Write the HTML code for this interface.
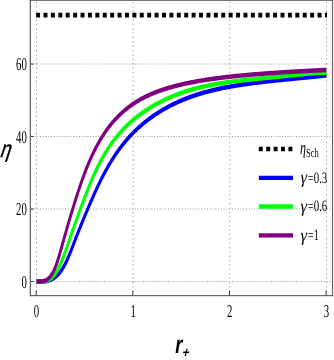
<!DOCTYPE html>
<html><head><meta charset="utf-8"><style>html,body{margin:0;padding:0;background:#fff;}body{width:334px;height:360px;overflow:hidden;position:relative;font-family:"Liberation Serif",serif;}</style></head><body>
<svg width="334" height="360" viewBox="0 0 334 360" style="position:absolute;left:0;top:0;will-change:transform">
<rect width="334" height="360" fill="#fff"/>
<g transform="scale(0.6185 1)" fill="none">
<g stroke="#858585" stroke-width="1" stroke-dasharray="1.7 2.8">
<line x1="51.09" y1="281.50" x2="536.78" y2="281.50"/>
<line x1="51.09" y1="209.00" x2="536.78" y2="209.00"/>
<line x1="51.09" y1="136.50" x2="536.78" y2="136.50"/>
<line x1="51.09" y1="64.00" x2="536.78" y2="64.00"/>
</g>
<g stroke="#8c8c8c" stroke-width="1.35" stroke-dasharray="1.35 3.025">
<line x1="59.01" y1="1.8" x2="59.01" y2="295"/>
<line x1="215.28" y1="1.8" x2="215.28" y2="295"/>
<line x1="371.54" y1="1.8" x2="371.54" y2="295"/>
<line x1="527.81" y1="1.8" x2="527.81" y2="295"/>
</g>
<line x1="58.37" y1="15.2" x2="528.70" y2="15.2" stroke="#000" stroke-width="4.7" stroke-dasharray="6.4 5.575"/>
<polyline points="59.01,281.50 59.80,281.49 60.58,281.49 61.36,281.49 62.14,281.49 62.92,281.49 63.70,281.49 64.48,281.49 65.26,281.48 66.05,281.48 66.83,281.47 67.61,281.46 68.39,281.45 69.17,281.42 69.95,281.40 70.73,281.37 71.51,281.33 72.30,281.28 73.08,281.22 73.86,281.16 74.64,281.08 75.42,281.00 76.20,280.90 76.98,280.80 77.77,280.68 78.55,280.54 79.33,280.40 80.11,280.24 80.89,280.06 81.67,279.87 82.45,279.67 83.23,279.45 84.02,279.21 84.80,278.95 85.58,278.68 86.36,278.39 87.14,278.08 87.92,277.75 88.70,277.40 89.49,277.03 90.27,276.64 91.05,276.22 91.83,275.79 92.61,275.33 93.39,274.84 94.17,274.33 94.95,273.79 95.74,273.23 96.52,272.64 97.30,272.03 98.08,271.38 98.86,270.71 99.64,270.01 100.42,269.28 101.21,268.52 101.99,267.73 102.77,266.92 103.55,266.07 104.33,265.19 105.11,264.28 105.89,263.34 106.67,262.36 107.46,261.36 108.24,260.33 109.02,259.26 109.80,258.18 110.58,257.06 111.36,255.93 112.14,254.77 112.93,253.59 113.71,252.40 114.49,251.19 115.27,249.97 116.05,248.74 116.83,247.50 117.61,246.25 118.39,244.99 119.18,243.74 119.96,242.48 120.74,241.22 121.52,239.97 122.30,238.72 123.08,237.47 123.86,236.23 124.65,234.99 125.43,233.76 126.21,232.54 126.99,231.32 127.77,230.10 128.55,228.89 129.33,227.69 130.11,226.48 130.90,225.29 131.68,224.10 132.46,222.91 133.24,221.73 134.02,220.55 134.80,219.37 135.58,218.20 136.36,217.04 137.15,215.88 137.93,214.72 138.71,213.57 139.49,212.42 140.27,211.27 141.05,210.13 141.83,208.99 142.62,207.85 143.40,206.72 144.18,205.59 144.96,204.46 145.74,203.34 146.52,202.22 147.30,201.11 148.08,200.00 148.87,198.90 149.65,197.80 150.43,196.71 151.21,195.62 151.99,194.55 152.77,193.47 153.55,192.41 154.34,191.35 155.12,190.30 155.90,189.25 156.68,188.22 157.46,187.19 158.24,186.17 159.02,185.15 159.80,184.15 160.59,183.15 161.37,182.16 162.15,181.18 162.93,180.21 163.71,179.24 164.49,178.29 165.27,177.34 166.06,176.40 166.84,175.47 167.62,174.54 168.40,173.63 169.18,172.72 169.96,171.83 170.74,170.94 171.52,170.06 172.31,169.18 173.09,168.32 173.87,167.47 174.65,166.62 175.43,165.78 176.21,164.95 176.99,164.13 177.78,163.32 178.56,162.51 179.34,161.72 180.12,160.93 180.90,160.15 181.68,159.38 182.46,158.61 183.24,157.86 184.03,157.11 184.81,156.37 185.59,155.64 186.37,154.91 187.15,154.20 187.93,153.49 188.71,152.78 189.50,152.09 190.28,151.40 191.06,150.72 191.84,150.05 192.62,149.39 193.40,148.73 194.18,148.08 194.96,147.43 195.75,146.79 196.53,146.16 197.31,145.54 198.09,144.92 198.87,144.31 199.65,143.70 200.43,143.11 201.22,142.51 202.00,141.93 202.78,141.35 203.56,140.77 204.34,140.21 205.12,139.64 205.90,139.09 206.68,138.54 207.47,137.99 208.25,137.45 209.03,136.92 209.81,136.39 210.59,135.87 211.37,135.35 212.15,134.84 212.93,134.33 213.72,133.83 214.50,133.33 215.28,132.84 216.06,132.35 216.84,131.87 217.62,131.39 218.40,130.92 219.19,130.45 219.97,129.99 220.75,129.53 221.53,129.07 222.31,128.62 223.09,128.17 223.87,127.73 224.65,127.29 225.44,126.86 226.22,126.43 227.00,126.00 227.78,125.58 228.56,125.16 229.34,124.75 230.12,124.33 230.91,123.93 231.69,123.52 232.47,123.12 233.25,122.73 234.03,122.34 234.81,121.95 235.59,121.56 236.37,121.18 237.16,120.80 237.94,120.43 238.72,120.05 239.50,119.68 240.28,119.32 241.06,118.96 241.84,118.60 242.63,118.24 243.41,117.89 244.19,117.54 244.97,117.19 245.75,116.85 246.53,116.51 247.31,116.17 248.09,115.83 248.88,115.50 249.66,115.17 250.44,114.84 251.22,114.52 252.00,114.20 252.78,113.88 253.56,113.56 254.35,113.25 255.13,112.94 255.91,112.63 256.69,112.33 257.47,112.02 258.25,111.72 259.03,111.42 259.81,111.13 260.60,110.84 261.38,110.55 262.16,110.26 262.94,109.97 263.72,109.69 264.50,109.41 265.28,109.13 266.07,108.85 266.85,108.57 267.63,108.30 268.41,108.03 269.19,107.76 269.97,107.50 270.75,107.23 271.53,106.97 272.32,106.71 273.10,106.46 273.88,106.20 274.66,105.95 275.44,105.70 276.22,105.45 277.00,105.20 277.78,104.95 278.57,104.71 279.35,104.47 280.13,104.23 280.91,103.99 281.69,103.76 282.47,103.53 283.25,103.29 284.04,103.06 284.82,102.84 285.60,102.61 286.38,102.39 287.16,102.17 287.94,101.95 288.72,101.73 289.50,101.51 290.29,101.30 291.07,101.08 291.85,100.87 292.63,100.66 293.41,100.46 294.19,100.25 294.97,100.05 295.76,99.85 296.54,99.65 297.32,99.45 298.10,99.25 298.88,99.06 299.66,98.86 300.44,98.67 301.22,98.48 302.01,98.29 302.79,98.11 303.57,97.92 304.35,97.74 305.13,97.56 305.91,97.38 306.69,97.20 307.48,97.02 308.26,96.85 309.04,96.67 309.82,96.50 310.60,96.33 311.38,96.16 312.16,96.00 312.94,95.83 313.73,95.67 314.51,95.50 315.29,95.34 316.07,95.18 316.85,95.02 317.63,94.86 318.41,94.71 319.20,94.55 319.98,94.40 320.76,94.25 321.54,94.10 322.32,93.95 323.10,93.80 323.88,93.65 324.66,93.51 325.45,93.36 326.23,93.22 327.01,93.08 327.79,92.94 328.57,92.80 329.35,92.66 330.13,92.53 330.92,92.39 331.70,92.25 332.48,92.12 333.26,91.99 334.04,91.86 334.82,91.73 335.60,91.60 336.38,91.47 337.17,91.34 337.95,91.22 338.73,91.09 339.51,90.97 340.29,90.85 341.07,90.73 341.85,90.61 342.64,90.49 343.42,90.37 344.20,90.25 344.98,90.13 345.76,90.02 346.54,89.90 347.32,89.79 348.10,89.68 348.89,89.56 349.67,89.45 350.45,89.34 351.23,89.23 352.01,89.13 352.79,89.02 353.57,88.91 354.35,88.81 355.14,88.70 355.92,88.60 356.70,88.49 357.48,88.39 358.26,88.29 359.04,88.19 359.82,88.09 360.61,87.99 361.39,87.89 362.17,87.79 362.95,87.70 363.73,87.60 364.51,87.51 365.29,87.41 366.07,87.32 366.86,87.23 367.64,87.13 368.42,87.04 369.20,86.95 369.98,86.86 370.76,86.77 371.54,86.68 372.33,86.59 373.11,86.51 373.89,86.42 374.67,86.33 375.45,86.25 376.23,86.16 377.01,86.08 377.79,86.00 378.58,85.91 379.36,85.83 380.14,85.75 380.92,85.67 381.70,85.59 382.48,85.51 383.26,85.43 384.05,85.35 384.83,85.27 385.61,85.19 386.39,85.12 387.17,85.04 387.95,84.97 388.73,84.89 389.51,84.81 390.30,84.74 391.08,84.67 391.86,84.59 392.64,84.52 393.42,84.45 394.20,84.38 394.98,84.31 395.77,84.23 396.55,84.16 397.33,84.09 398.11,84.03 398.89,83.96 399.67,83.89 400.45,83.82 401.23,83.75 402.02,83.69 402.80,83.62 403.58,83.55 404.36,83.49 405.14,83.42 405.92,83.36 406.70,83.29 407.49,83.23 408.27,83.16 409.05,83.10 409.83,83.04 410.61,82.97 411.39,82.91 412.17,82.85 412.95,82.79 413.74,82.73 414.52,82.67 415.30,82.61 416.08,82.55 416.86,82.49 417.64,82.43 418.42,82.37 419.20,82.31 419.99,82.25 420.77,82.19 421.55,82.14 422.33,82.08 423.11,82.02 423.89,81.96 424.67,81.91 425.46,81.85 426.24,81.79 427.02,81.74 427.80,81.68 428.58,81.63 429.36,81.57 430.14,81.52 430.92,81.46 431.71,81.41 432.49,81.36 433.27,81.30 434.05,81.25 434.83,81.20 435.61,81.14 436.39,81.09 437.18,81.04 437.96,80.99 438.74,80.93 439.52,80.88 440.30,80.83 441.08,80.78 441.86,80.73 442.64,80.68 443.43,80.62 444.21,80.57 444.99,80.52 445.77,80.47 446.55,80.42 447.33,80.37 448.11,80.32 448.90,80.27 449.68,80.22 450.46,80.17 451.24,80.12 452.02,80.08 452.80,80.03 453.58,79.98 454.36,79.93 455.15,79.88 455.93,79.83 456.71,79.78 457.49,79.73 458.27,79.69 459.05,79.64 459.83,79.59 460.62,79.54 461.40,79.49 462.18,79.45 462.96,79.40 463.74,79.35 464.52,79.30 465.30,79.26 466.08,79.21 466.87,79.16 467.65,79.12 468.43,79.07 469.21,79.02 469.99,78.97 470.77,78.93 471.55,78.88 472.34,78.83 473.12,78.79 473.90,78.74 474.68,78.69 475.46,78.65 476.24,78.60 477.02,78.55 477.80,78.51 478.59,78.46 479.37,78.41 480.15,78.37 480.93,78.32 481.71,78.27 482.49,78.23 483.27,78.18 484.05,78.13 484.84,78.09 485.62,78.04 486.40,77.99 487.18,77.95 487.96,77.90 488.74,77.85 489.52,77.80 490.31,77.76 491.09,77.71 491.87,77.66 492.65,77.62 493.43,77.57 494.21,77.52 494.99,77.47 495.77,77.43 496.56,77.38 497.34,77.33 498.12,77.28 498.90,77.24 499.68,77.19 500.46,77.14 501.24,77.09 502.03,77.05 502.81,77.00 503.59,76.95 504.37,76.90 505.15,76.85 505.93,76.80 506.71,76.76 507.49,76.71 508.28,76.66 509.06,76.61 509.84,76.56 510.62,76.51 511.40,76.46 512.18,76.41 512.96,76.36 513.75,76.31 514.53,76.26 515.31,76.21 516.09,76.16 516.87,76.11 517.65,76.06 518.43,76.01 519.21,75.96 520.00,75.91 520.78,75.86 521.56,75.81 522.34,75.75 523.12,75.70 523.90,75.65 524.68,75.60 525.47,75.55 526.25,75.49 527.03,75.44 527.81,75.39" stroke="#0000ff" stroke-width="4.5" stroke-linejoin="round"/>
<polyline points="59.01,281.50 59.80,281.50 60.58,281.47 61.36,281.46 62.14,281.44 62.92,281.43 63.70,281.42 64.48,281.42 65.26,281.41 66.05,281.40 66.83,281.39 67.61,281.37 68.39,281.35 69.17,281.32 69.95,281.28 70.73,281.23 71.51,281.17 72.30,281.10 73.08,281.01 73.86,280.90 74.64,280.78 75.42,280.64 76.20,280.48 76.98,280.30 77.77,280.09 78.55,279.86 79.33,279.61 80.11,279.32 80.89,279.01 81.67,278.67 82.45,278.30 83.23,277.90 84.02,277.46 84.80,276.99 85.58,276.49 86.36,275.96 87.14,275.38 87.92,274.78 88.70,274.14 89.49,273.46 90.27,272.74 91.05,271.99 91.83,271.21 92.61,270.38 93.39,269.52 94.17,268.63 94.95,267.70 95.74,266.73 96.52,265.72 97.30,264.68 98.08,263.60 98.86,262.49 99.64,261.34 100.42,260.16 101.21,258.95 101.99,257.70 102.77,256.43 103.55,255.14 104.33,253.82 105.11,252.48 105.89,251.12 106.67,249.75 107.46,248.37 108.24,246.98 109.02,245.58 109.80,244.17 110.58,242.76 111.36,241.35 112.14,239.95 112.93,238.55 113.71,237.15 114.49,235.76 115.27,234.37 116.05,232.99 116.83,231.61 117.61,230.24 118.39,228.87 119.18,227.50 119.96,226.14 120.74,224.78 121.52,223.43 122.30,222.08 123.08,220.74 123.86,219.40 124.65,218.06 125.43,216.73 126.21,215.40 126.99,214.07 127.77,212.75 128.55,211.43 129.33,210.11 130.11,208.80 130.90,207.48 131.68,206.17 132.46,204.86 133.24,203.56 134.02,202.25 134.80,200.96 135.58,199.67 136.36,198.38 137.15,197.10 137.93,195.83 138.71,194.57 139.49,193.31 140.27,192.06 141.05,190.82 141.83,189.59 142.62,188.38 143.40,187.17 144.18,185.97 144.96,184.78 145.74,183.60 146.52,182.44 147.30,181.29 148.08,180.14 148.87,179.02 149.65,177.90 150.43,176.80 151.21,175.70 151.99,174.63 152.77,173.56 153.55,172.51 154.34,171.47 155.12,170.44 155.90,169.42 156.68,168.42 157.46,167.43 158.24,166.45 159.02,165.48 159.80,164.52 160.59,163.58 161.37,162.65 162.15,161.73 162.93,160.82 163.71,159.93 164.49,159.04 165.27,158.17 166.06,157.31 166.84,156.45 167.62,155.61 168.40,154.78 169.18,153.97 169.96,153.16 170.74,152.36 171.52,151.57 172.31,150.80 173.09,150.03 173.87,149.27 174.65,148.52 175.43,147.79 176.21,147.06 176.99,146.34 177.78,145.63 178.56,144.93 179.34,144.24 180.12,143.55 180.90,142.88 181.68,142.21 182.46,141.56 183.24,140.91 184.03,140.27 184.81,139.63 185.59,139.01 186.37,138.39 187.15,137.78 187.93,137.18 188.71,136.58 189.50,135.99 190.28,135.41 191.06,134.84 191.84,134.27 192.62,133.71 193.40,133.15 194.18,132.61 194.96,132.06 195.75,131.53 196.53,131.00 197.31,130.48 198.09,129.96 198.87,129.45 199.65,128.94 200.43,128.44 201.22,127.95 202.00,127.46 202.78,126.97 203.56,126.50 204.34,126.02 205.12,125.55 205.90,125.09 206.68,124.63 207.47,124.18 208.25,123.73 209.03,123.29 209.81,122.85 210.59,122.41 211.37,121.98 212.15,121.56 212.93,121.14 213.72,120.72 214.50,120.31 215.28,119.90 216.06,119.49 216.84,119.09 217.62,118.69 218.40,118.30 219.19,117.91 219.97,117.53 220.75,117.14 221.53,116.77 222.31,116.39 223.09,116.02 223.87,115.65 224.65,115.29 225.44,114.93 226.22,114.57 227.00,114.22 227.78,113.86 228.56,113.52 229.34,113.17 230.12,112.83 230.91,112.49 231.69,112.15 232.47,111.82 233.25,111.49 234.03,111.17 234.81,110.84 235.59,110.52 236.37,110.20 237.16,109.89 237.94,109.57 238.72,109.26 239.50,108.95 240.28,108.65 241.06,108.35 241.84,108.05 242.63,107.75 243.41,107.46 244.19,107.16 244.97,106.87 245.75,106.59 246.53,106.30 247.31,106.02 248.09,105.74 248.88,105.46 249.66,105.18 250.44,104.91 251.22,104.64 252.00,104.37 252.78,104.10 253.56,103.84 254.35,103.57 255.13,103.31 255.91,103.05 256.69,102.80 257.47,102.54 258.25,102.29 259.03,102.04 259.81,101.79 260.60,101.55 261.38,101.30 262.16,101.06 262.94,100.82 263.72,100.58 264.50,100.34 265.28,100.11 266.07,99.88 266.85,99.65 267.63,99.42 268.41,99.19 269.19,98.96 269.97,98.74 270.75,98.52 271.53,98.30 272.32,98.08 273.10,97.87 273.88,97.65 274.66,97.44 275.44,97.23 276.22,97.02 277.00,96.81 277.78,96.61 278.57,96.40 279.35,96.20 280.13,96.00 280.91,95.80 281.69,95.60 282.47,95.41 283.25,95.21 284.04,95.02 284.82,94.83 285.60,94.64 286.38,94.46 287.16,94.27 287.94,94.09 288.72,93.90 289.50,93.72 290.29,93.54 291.07,93.37 291.85,93.19 292.63,93.02 293.41,92.84 294.19,92.67 294.97,92.51 295.76,92.34 296.54,92.17 297.32,92.01 298.10,91.84 298.88,91.68 299.66,91.52 300.44,91.37 301.22,91.21 302.01,91.05 302.79,90.90 303.57,90.75 304.35,90.60 305.13,90.45 305.91,90.30 306.69,90.16 307.48,90.01 308.26,89.87 309.04,89.73 309.82,89.59 310.60,89.45 311.38,89.32 312.16,89.18 312.94,89.05 313.73,88.91 314.51,88.78 315.29,88.65 316.07,88.52 316.85,88.39 317.63,88.27 318.41,88.14 319.20,88.02 319.98,87.90 320.76,87.78 321.54,87.66 322.32,87.54 323.10,87.42 323.88,87.30 324.66,87.19 325.45,87.07 326.23,86.96 327.01,86.85 327.79,86.74 328.57,86.63 329.35,86.52 330.13,86.41 330.92,86.30 331.70,86.20 332.48,86.09 333.26,85.99 334.04,85.89 334.82,85.78 335.60,85.68 336.38,85.58 337.17,85.49 337.95,85.39 338.73,85.29 339.51,85.20 340.29,85.10 341.07,85.01 341.85,84.91 342.64,84.82 343.42,84.73 344.20,84.64 344.98,84.55 345.76,84.46 346.54,84.37 347.32,84.29 348.10,84.20 348.89,84.12 349.67,84.03 350.45,83.95 351.23,83.86 352.01,83.78 352.79,83.70 353.57,83.62 354.35,83.54 355.14,83.46 355.92,83.38 356.70,83.30 357.48,83.23 358.26,83.15 359.04,83.07 359.82,83.00 360.61,82.92 361.39,82.85 362.17,82.78 362.95,82.70 363.73,82.63 364.51,82.56 365.29,82.49 366.07,82.42 366.86,82.35 367.64,82.28 368.42,82.21 369.20,82.14 369.98,82.08 370.76,82.01 371.54,81.94 372.33,81.88 373.11,81.81 373.89,81.75 374.67,81.68 375.45,81.62 376.23,81.56 377.01,81.49 377.79,81.43 378.58,81.37 379.36,81.31 380.14,81.25 380.92,81.19 381.70,81.13 382.48,81.07 383.26,81.01 384.05,80.95 384.83,80.89 385.61,80.83 386.39,80.77 387.17,80.72 387.95,80.66 388.73,80.60 389.51,80.55 390.30,80.49 391.08,80.44 391.86,80.38 392.64,80.33 393.42,80.27 394.20,80.22 394.98,80.16 395.77,80.11 396.55,80.06 397.33,80.00 398.11,79.95 398.89,79.90 399.67,79.84 400.45,79.79 401.23,79.74 402.02,79.69 402.80,79.64 403.58,79.59 404.36,79.53 405.14,79.48 405.92,79.43 406.70,79.38 407.49,79.33 408.27,79.28 409.05,79.23 409.83,79.18 410.61,79.13 411.39,79.08 412.17,79.03 412.95,78.98 413.74,78.94 414.52,78.89 415.30,78.84 416.08,78.79 416.86,78.74 417.64,78.69 418.42,78.64 419.20,78.59 419.99,78.55 420.77,78.50 421.55,78.45 422.33,78.40 423.11,78.35 423.89,78.31 424.67,78.26 425.46,78.21 426.24,78.16 427.02,78.11 427.80,78.07 428.58,78.02 429.36,77.97 430.14,77.92 430.92,77.87 431.71,77.83 432.49,77.78 433.27,77.73 434.05,77.68 434.83,77.63 435.61,77.58 436.39,77.54 437.18,77.49 437.96,77.44 438.74,77.39 439.52,77.34 440.30,77.29 441.08,77.24 441.86,77.19 442.64,77.15 443.43,77.10 444.21,77.05 444.99,77.00 445.77,76.95 446.55,76.90 447.33,76.85 448.11,76.80 448.90,76.75 449.68,76.70 450.46,76.65 451.24,76.59 452.02,76.54 452.80,76.49 453.58,76.44 454.36,76.39 455.15,76.34 455.93,76.29 456.71,76.23 457.49,76.18 458.27,76.13 459.05,76.08 459.83,76.03 460.62,75.98 461.40,75.92 462.18,75.87 462.96,75.82 463.74,75.77 464.52,75.72 465.30,75.66 466.08,75.61 466.87,75.56 467.65,75.51 468.43,75.46 469.21,75.40 469.99,75.35 470.77,75.30 471.55,75.25 472.34,75.20 473.12,75.15 473.90,75.10 474.68,75.05 475.46,75.00 476.24,74.95 477.02,74.90 477.80,74.85 478.59,74.80 479.37,74.75 480.15,74.70 480.93,74.65 481.71,74.60 482.49,74.55 483.27,74.50 484.05,74.46 484.84,74.41 485.62,74.36 486.40,74.31 487.18,74.27 487.96,74.22 488.74,74.18 489.52,74.13 490.31,74.09 491.09,74.04 491.87,74.00 492.65,73.96 493.43,73.91 494.21,73.87 494.99,73.83 495.77,73.79 496.56,73.74 497.34,73.70 498.12,73.66 498.90,73.62 499.68,73.59 500.46,73.55 501.24,73.51 502.03,73.47 502.81,73.43 503.59,73.40 504.37,73.36 505.15,73.33 505.93,73.29 506.71,73.26 507.49,73.23 508.28,73.20 509.06,73.16 509.84,73.13 510.62,73.10 511.40,73.07 512.18,73.04 512.96,73.02 513.75,72.99 514.53,72.96 515.31,72.94 516.09,72.91 516.87,72.89 517.65,72.86 518.43,72.84 519.21,72.82 520.00,72.80 520.78,72.78 521.56,72.76 522.34,72.74 523.12,72.73 523.90,72.71 524.68,72.69 525.47,72.68 526.25,72.67 527.03,72.65 527.81,72.64" stroke="#00ff00" stroke-width="4.5" stroke-linejoin="round"/>
<polyline points="59.01,281.50 59.80,281.49 60.58,281.49 61.36,281.48 62.14,281.48 62.92,281.47 63.70,281.46 64.48,281.45 65.26,281.44 66.05,281.41 66.83,281.38 67.61,281.33 68.39,281.27 69.17,281.20 69.95,281.10 70.73,280.99 71.51,280.86 72.30,280.70 73.08,280.52 73.86,280.31 74.64,280.07 75.42,279.79 76.20,279.48 76.98,279.13 77.77,278.74 78.55,278.31 79.33,277.84 80.11,277.32 80.89,276.76 81.67,276.15 82.45,275.48 83.23,274.77 84.02,274.00 84.80,273.18 85.58,272.31 86.36,271.38 87.14,270.39 87.92,269.35 88.70,268.25 89.49,267.09 90.27,265.87 91.05,264.59 91.83,263.25 92.61,261.86 93.39,260.40 94.17,258.89 94.95,257.33 95.74,255.72 96.52,254.08 97.30,252.41 98.08,250.70 98.86,248.98 99.64,247.24 100.42,245.49 101.21,243.73 101.99,241.97 102.77,240.23 103.55,238.49 104.33,236.76 105.11,235.04 105.89,233.34 106.67,231.64 107.46,229.95 108.24,228.28 109.02,226.61 109.80,224.96 110.58,223.31 111.36,221.68 112.14,220.05 112.93,218.43 113.71,216.82 114.49,215.21 115.27,213.62 116.05,212.03 116.83,210.44 117.61,208.86 118.39,207.29 119.18,205.72 119.96,204.16 120.74,202.61 121.52,201.06 122.30,199.53 123.08,198.00 123.86,196.49 124.65,194.98 125.43,193.49 126.21,192.01 126.99,190.54 127.77,189.09 128.55,187.65 129.33,186.22 130.11,184.80 130.90,183.40 131.68,182.02 132.46,180.65 133.24,179.29 134.02,177.95 134.80,176.63 135.58,175.32 136.36,174.03 137.15,172.75 137.93,171.49 138.71,170.24 139.49,169.01 140.27,167.80 141.05,166.60 141.83,165.41 142.62,164.25 143.40,163.09 144.18,161.96 144.96,160.84 145.74,159.73 146.52,158.64 147.30,157.56 148.08,156.50 148.87,155.46 149.65,154.43 150.43,153.41 151.21,152.41 151.99,151.42 152.77,150.44 153.55,149.48 154.34,148.54 155.12,147.60 155.90,146.68 156.68,145.78 157.46,144.88 158.24,144.00 159.02,143.13 159.80,142.28 160.59,141.44 161.37,140.61 162.15,139.79 162.93,138.98 163.71,138.18 164.49,137.40 165.27,136.62 166.06,135.86 166.84,135.11 167.62,134.37 168.40,133.64 169.18,132.92 169.96,132.21 170.74,131.51 171.52,130.82 172.31,130.14 173.09,129.47 173.87,128.81 174.65,128.16 175.43,127.52 176.21,126.88 176.99,126.26 177.78,125.64 178.56,125.03 179.34,124.43 180.12,123.84 180.90,123.26 181.68,122.68 182.46,122.12 183.24,121.56 184.03,121.00 184.81,120.46 185.59,119.92 186.37,119.39 187.15,118.87 187.93,118.35 188.71,117.84 189.50,117.34 190.28,116.84 191.06,116.35 191.84,115.87 192.62,115.39 193.40,114.92 194.18,114.45 194.96,114.00 195.75,113.54 196.53,113.10 197.31,112.65 198.09,112.22 198.87,111.79 199.65,111.36 200.43,110.95 201.22,110.53 202.00,110.12 202.78,109.72 203.56,109.32 204.34,108.93 205.12,108.54 205.90,108.16 206.68,107.78 207.47,107.41 208.25,107.04 209.03,106.67 209.81,106.31 210.59,105.96 211.37,105.61 212.15,105.26 212.93,104.92 213.72,104.58 214.50,104.25 215.28,103.92 216.06,103.59 216.84,103.27 217.62,102.96 218.40,102.65 219.19,102.34 219.97,102.03 220.75,101.73 221.53,101.43 222.31,101.14 223.09,100.85 223.87,100.56 224.65,100.28 225.44,100.00 226.22,99.72 227.00,99.45 227.78,99.18 228.56,98.92 229.34,98.65 230.12,98.39 230.91,98.14 231.69,97.88 232.47,97.63 233.25,97.38 234.03,97.14 234.81,96.90 235.59,96.66 236.37,96.42 237.16,96.19 237.94,95.96 238.72,95.73 239.50,95.50 240.28,95.28 241.06,95.06 241.84,94.84 242.63,94.62 243.41,94.41 244.19,94.20 244.97,93.99 245.75,93.78 246.53,93.58 247.31,93.38 248.09,93.18 248.88,92.98 249.66,92.79 250.44,92.59 251.22,92.40 252.00,92.21 252.78,92.03 253.56,91.84 254.35,91.66 255.13,91.48 255.91,91.30 256.69,91.12 257.47,90.94 258.25,90.77 259.03,90.60 259.81,90.43 260.60,90.26 261.38,90.09 262.16,89.93 262.94,89.77 263.72,89.61 264.50,89.45 265.28,89.29 266.07,89.13 266.85,88.98 267.63,88.82 268.41,88.67 269.19,88.52 269.97,88.37 270.75,88.22 271.53,88.08 272.32,87.93 273.10,87.79 273.88,87.65 274.66,87.51 275.44,87.37 276.22,87.23 277.00,87.09 277.78,86.96 278.57,86.83 279.35,86.69 280.13,86.56 280.91,86.43 281.69,86.30 282.47,86.18 283.25,86.05 284.04,85.92 284.82,85.80 285.60,85.68 286.38,85.55 287.16,85.43 287.94,85.31 288.72,85.20 289.50,85.08 290.29,84.96 291.07,84.85 291.85,84.73 292.63,84.62 293.41,84.51 294.19,84.39 294.97,84.28 295.76,84.17 296.54,84.06 297.32,83.96 298.10,83.85 298.88,83.74 299.66,83.64 300.44,83.54 301.22,83.43 302.01,83.33 302.79,83.23 303.57,83.13 304.35,83.03 305.13,82.93 305.91,82.83 306.69,82.73 307.48,82.64 308.26,82.54 309.04,82.44 309.82,82.35 310.60,82.26 311.38,82.16 312.16,82.07 312.94,81.98 313.73,81.89 314.51,81.80 315.29,81.71 316.07,81.62 316.85,81.53 317.63,81.45 318.41,81.36 319.20,81.27 319.98,81.19 320.76,81.10 321.54,81.02 322.32,80.94 323.10,80.85 323.88,80.77 324.66,80.69 325.45,80.61 326.23,80.53 327.01,80.45 327.79,80.37 328.57,80.29 329.35,80.21 330.13,80.14 330.92,80.06 331.70,79.98 332.48,79.91 333.26,79.83 334.04,79.76 334.82,79.68 335.60,79.61 336.38,79.54 337.17,79.47 337.95,79.39 338.73,79.32 339.51,79.25 340.29,79.18 341.07,79.11 341.85,79.04 342.64,78.97 343.42,78.91 344.20,78.84 344.98,78.77 345.76,78.70 346.54,78.64 347.32,78.57 348.10,78.51 348.89,78.44 349.67,78.38 350.45,78.31 351.23,78.25 352.01,78.18 352.79,78.12 353.57,78.06 354.35,78.00 355.14,77.94 355.92,77.87 356.70,77.81 357.48,77.75 358.26,77.69 359.04,77.63 359.82,77.57 360.61,77.52 361.39,77.46 362.17,77.40 362.95,77.34 363.73,77.28 364.51,77.23 365.29,77.17 366.07,77.11 366.86,77.06 367.64,77.00 368.42,76.95 369.20,76.89 369.98,76.84 370.76,76.78 371.54,76.73 372.33,76.68 373.11,76.62 373.89,76.57 374.67,76.52 375.45,76.47 376.23,76.41 377.01,76.36 377.79,76.31 378.58,76.26 379.36,76.21 380.14,76.16 380.92,76.11 381.70,76.06 382.48,76.01 383.26,75.96 384.05,75.91 384.83,75.87 385.61,75.82 386.39,75.77 387.17,75.72 387.95,75.67 388.73,75.63 389.51,75.58 390.30,75.53 391.08,75.49 391.86,75.44 392.64,75.40 393.42,75.35 394.20,75.31 394.98,75.26 395.77,75.22 396.55,75.17 397.33,75.13 398.11,75.08 398.89,75.04 399.67,75.00 400.45,74.95 401.23,74.91 402.02,74.87 402.80,74.82 403.58,74.78 404.36,74.74 405.14,74.70 405.92,74.66 406.70,74.62 407.49,74.57 408.27,74.53 409.05,74.49 409.83,74.45 410.61,74.41 411.39,74.37 412.17,74.33 412.95,74.29 413.74,74.25 414.52,74.21 415.30,74.18 416.08,74.14 416.86,74.10 417.64,74.06 418.42,74.02 419.20,73.98 419.99,73.95 420.77,73.91 421.55,73.87 422.33,73.83 423.11,73.80 423.89,73.76 424.67,73.72 425.46,73.69 426.24,73.65 427.02,73.61 427.80,73.58 428.58,73.54 429.36,73.51 430.14,73.47 430.92,73.43 431.71,73.40 432.49,73.36 433.27,73.33 434.05,73.29 434.83,73.26 435.61,73.23 436.39,73.19 437.18,73.16 437.96,73.12 438.74,73.09 439.52,73.06 440.30,73.02 441.08,72.99 441.86,72.96 442.64,72.92 443.43,72.89 444.21,72.86 444.99,72.82 445.77,72.79 446.55,72.76 447.33,72.73 448.11,72.70 448.90,72.66 449.68,72.63 450.46,72.60 451.24,72.57 452.02,72.54 452.80,72.51 453.58,72.47 454.36,72.44 455.15,72.41 455.93,72.38 456.71,72.35 457.49,72.32 458.27,72.29 459.05,72.26 459.83,72.23 460.62,72.20 461.40,72.17 462.18,72.14 462.96,72.11 463.74,72.08 464.52,72.05 465.30,72.02 466.08,71.99 466.87,71.96 467.65,71.93 468.43,71.90 469.21,71.88 469.99,71.85 470.77,71.82 471.55,71.79 472.34,71.76 473.12,71.73 473.90,71.70 474.68,71.68 475.46,71.65 476.24,71.62 477.02,71.59 477.80,71.56 478.59,71.54 479.37,71.51 480.15,71.48 480.93,71.45 481.71,71.43 482.49,71.40 483.27,71.37 484.05,71.34 484.84,71.32 485.62,71.29 486.40,71.26 487.18,71.24 487.96,71.21 488.74,71.18 489.52,71.16 490.31,71.13 491.09,71.10 491.87,71.08 492.65,71.05 493.43,71.02 494.21,71.00 494.99,70.97 495.77,70.94 496.56,70.92 497.34,70.89 498.12,70.87 498.90,70.84 499.68,70.82 500.46,70.79 501.24,70.76 502.03,70.74 502.81,70.71 503.59,70.69 504.37,70.66 505.15,70.64 505.93,70.61 506.71,70.59 507.49,70.56 508.28,70.54 509.06,70.51 509.84,70.48 510.62,70.46 511.40,70.43 512.18,70.41 512.96,70.38 513.75,70.36 514.53,70.34 515.31,70.31 516.09,70.29 516.87,70.26 517.65,70.24 518.43,70.21 519.21,70.19 520.00,70.16 520.78,70.14 521.56,70.11 522.34,70.09 523.12,70.07 523.90,70.04 524.68,70.02 525.47,69.99 526.25,69.97 527.03,69.94 527.81,69.92" stroke="#800080" stroke-width="4.5" stroke-linejoin="round"/>
<line x1="418.43" y1="149" x2="473.73" y2="149" stroke="#000" stroke-width="4.7" stroke-dasharray="6.4 5.575"/>
<line x1="418.43" y1="177.8" x2="473.73" y2="177.8" stroke="#0000ff" stroke-width="4.3"/>
<line x1="418.43" y1="206.5" x2="473.73" y2="206.5" stroke="#00ff00" stroke-width="4.3"/>
<line x1="418.43" y1="235.3" x2="473.73" y2="235.3" stroke="#800080" stroke-width="4.3"/>
</g>
<g fill="#666">
<rect x="29.7" y="0" width="1.3" height="296.2"/>
<rect x="331.9" y="0" width="1.2" height="296.2"/>
<rect x="29.7" y="0" width="303.4" height="0.9"/>
<rect x="29.7" y="295" width="303.4" height="1.2"/>
</g>
<g fill="#333">
<rect x="31" y="281.00" width="2.6" height="1"/>
<rect x="31" y="208.50" width="2.6" height="1"/>
<rect x="31" y="136.00" width="2.6" height="1"/>
<rect x="31" y="63.50" width="2.6" height="1"/>
<rect x="35.70" y="290.8" width="1" height="4.4"/>
<rect x="132.35" y="290.8" width="1" height="4.4"/>
<rect x="229.00" y="290.8" width="1" height="4.4"/>
<rect x="325.65" y="290.8" width="1" height="4.4"/>
</g>
<g font-family="Liberation Serif, serif" fill="#000" text-rendering="geometricPrecision">
<text x="21.40" y="287.70" textLength="5.40" lengthAdjust="spacingAndGlyphs" font-size="18.00" >0</text>
<text x="16.00" y="215.20" textLength="10.80" lengthAdjust="spacingAndGlyphs" font-size="18.00" >20</text>
<text x="16.00" y="142.70" textLength="10.80" lengthAdjust="spacingAndGlyphs" font-size="18.00" >40</text>
<text x="16.00" y="70.20" textLength="10.80" lengthAdjust="spacingAndGlyphs" font-size="18.00" >60</text>
<text x="33.80" y="317.10" textLength="5.40" lengthAdjust="spacingAndGlyphs" font-size="18.00" >0</text>
<text x="130.45" y="317.10" textLength="5.40" lengthAdjust="spacingAndGlyphs" font-size="18.00" >1</text>
<text x="227.10" y="317.10" textLength="5.40" lengthAdjust="spacingAndGlyphs" font-size="18.00" >2</text>
<text x="323.75" y="317.10" textLength="5.40" lengthAdjust="spacingAndGlyphs" font-size="18.00" >3</text>
<text x="299.90" y="154.00" textLength="6.00" lengthAdjust="spacingAndGlyphs" font-size="19.00" font-style="italic">η</text>
<text x="306.10" y="157.00" textLength="12.60" lengthAdjust="spacingAndGlyphs" font-size="12.60" >Sch</text>
<text x="300.40" y="183.00" textLength="6.60" lengthAdjust="spacingAndGlyphs" font-size="18.00" font-style="italic">γ</text>
<text x="307.90" y="182.70" textLength="5.40" lengthAdjust="spacingAndGlyphs" font-size="15.50" >=</text>
<text x="313.70" y="182.70" textLength="13.60" lengthAdjust="spacingAndGlyphs" font-size="15.90" >0.3</text>
<text x="300.40" y="211.70" textLength="6.60" lengthAdjust="spacingAndGlyphs" font-size="18.00" font-style="italic">γ</text>
<text x="307.90" y="211.40" textLength="5.40" lengthAdjust="spacingAndGlyphs" font-size="15.50" >=</text>
<text x="313.70" y="211.40" textLength="13.60" lengthAdjust="spacingAndGlyphs" font-size="15.90" >0.6</text>
<text x="300.40" y="240.50" textLength="6.60" lengthAdjust="spacingAndGlyphs" font-size="18.00" font-style="italic">γ</text>
<text x="307.90" y="240.20" textLength="5.40" lengthAdjust="spacingAndGlyphs" font-size="15.50" >=</text>
<text x="313.70" y="240.20" textLength="5.00" lengthAdjust="spacingAndGlyphs" font-size="15.90" >1</text>
</g>
<g font-family="Liberation Sans, sans-serif" font-weight="bold" font-style="italic" fill="#000" text-rendering="geometricPrecision">
<g transform="translate(0.3 157) skewX(-10)">
<text x="0.00" y="0.00" textLength="10.20" lengthAdjust="spacingAndGlyphs" font-size="23.50" font-weight="normal" stroke="#000" stroke-width="0.45">η</text>
</g>
<text x="175.30" y="352.60" textLength="7.20" lengthAdjust="spacingAndGlyphs" font-size="25.00" >r</text>
<g transform="translate(181.2 357.4) skewX(-14)">
<text x="0.00" y="0.00" textLength="7.00" lengthAdjust="spacingAndGlyphs" font-size="14.00" >+</text>
</g>
</g>
</svg>
</body></html>
